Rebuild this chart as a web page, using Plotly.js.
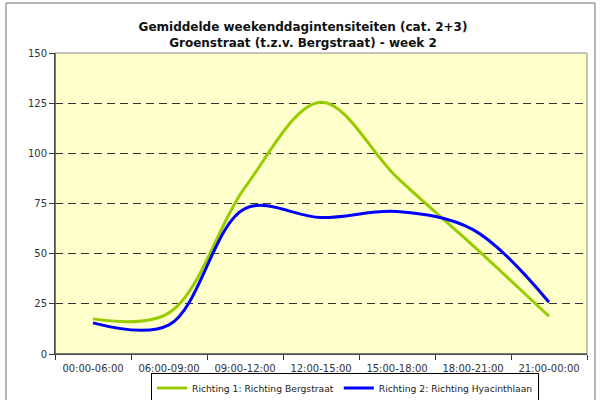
<!DOCTYPE html>
<html>
<head>
<meta charset="utf-8">
<script src="https://cdn.plot.ly/plotly-3.0.1.min.js"></script>
<style>
html,body{margin:0;padding:0;background:#fff;}
#chart{width:600px;height:400px;}
</style>
</head>
<body>
<div id="chart"></div>
<script>
const categories = ["00:00-06:00","06:00-09:00","09:00-12:00","12:00-15:00","15:00-18:00","18:00-21:00","21:00-00:00"];
const richting1 = [17.5, 20.5, 83, 125.5, 88, 54, 18.8];
const richting2 = [15.5, 14.5, 72.5, 68, 71, 62, 25.8];
const seriesNames = ["Richting 1: Richting Bergstraat", "Richting 2: Richting Hyacinthlaan"];
const yTicks = [0, 25, 50, 75, 100, 125, 150];

const font = "DejaVu Sans, Verdana, sans-serif";
const L = 55, R = 13, T = 53, B = 46;
const PW = 600 - L - R, PH = 400 - T - B;

const traces = [
  {x: categories, y: richting1, name: seriesNames[0], type: "scatter", mode: "lines",
   line: {color: "#99CC00", width: 3, shape: "spline", smoothing: 1}},
  {x: categories, y: richting2, name: seriesNames[1], type: "scatter", mode: "lines",
   line: {color: "#0000FF", width: 3, shape: "spline", smoothing: 1}}
];

const layout = {
  width: 600, height: 400,
  margin: {l: L, r: R, t: T, b: B, pad: 0, autoexpand: false},
  paper_bgcolor: "#FFFFFF",
  plot_bgcolor: "#FFFFCC",
  font: {family: font, size: 10, color: "#333333"},
  title: {
    text: "<b>Gemiddelde weekenddagintensiteiten (cat. 2+3)<br>Groenstraat (t.z.v. Bergstraat) - week 2</b>",
    font: {family: font, size: 12, color: "#111111"},
    xref: "container", x: 0.505, xanchor: "center",
    yref: "container", y: 1 - 31 / 400, yanchor: "middle"
  },
  xaxis: {
    type: "category",
    range: [-0.5, 6.5],
    tickson: "boundaries",
    ticks: "outside", ticklen: 5, tickcolor: "#333333",
    ticklabelstandoff: 5,
    showline: true, linecolor: "#333333", linewidth: 1,
    showgrid: false, zeroline: false,
    tickfont: {family: font, size: 10, color: "#333333"},
    automargin: false,
    fixedrange: true
  },
  yaxis: {
    range: [0, 150],
    tickvals: yTicks,
    ticks: "outside", ticklen: 5, tickcolor: "#333333",
    showline: true, linecolor: "#333333", linewidth: 1,
    showgrid: true, gridcolor: "#333333", gridwidth: 1, griddash: "8px,5px",
    zeroline: false,
    tickfont: {family: font, size: 10, color: "#333333"},
    automargin: false,
    fixedrange: true
  },
  showlegend: true,
  legend: {
    orientation: "h",
    xref: "container", x: 345 / 600, xanchor: "center",
    yref: "container", y: (400 - 388) / 400, yanchor: "middle",
    bordercolor: "#000000", borderwidth: 1,
    bgcolor: "#FFFFFF",
    font: {family: font, size: 9.2, color: "#222222"},
    tracegroupgap: 0, itemwidth: 30
  },
  shapes: [
    {type: "rect", xref: "paper", yref: "paper", layer: "above",
     x0: 0, x1: 1, y0: 0, y1: 1, line: {color: "#8C8C8C", width: 1}, fillcolor: "rgba(0,0,0,0)"},
    {type: "line", xref: "paper", yref: "paper", layer: "above",
     x0: 0, x1: 0, y0: 0, y1: 1, line: {color: "#333333", width: 1}},
    {type: "line", xref: "paper", yref: "paper", layer: "above",
     x0: 0, x1: 1, y0: 0, y1: 0, line: {color: "#333333", width: 1}},
    {type: "rect", xref: "paper", yref: "paper", layer: "below",
     x0: (6 - L) / PW, x1: (595 - L) / PW, y0: (354 - 410) / PH, y1: (354 - 3) / PH,
     line: {color: "#6E6E6E", width: 1}, fillcolor: "rgba(0,0,0,0)"}
  ]
};

Plotly.newPlot("chart", traces, layout, {displayModeBar: false, staticPlot: true});
</script>
</body>
</html>
